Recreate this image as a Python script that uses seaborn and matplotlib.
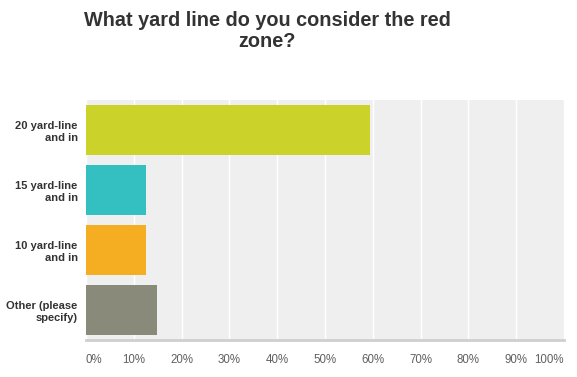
import pandas as pd
import matplotlib
matplotlib.use('Agg')
import matplotlib.pyplot as plt
import seaborn as sns
from matplotlib.ticker import FuncFormatter

# Datos
categorias = ['20 yard-line\nand in', '15 yard-line\nand in', '10 yard-line\nand in', 'Other (please\nspecify)']
porcentajes = [59.4, 12.5, 12.5, 14.8]
colores = ['#cbd32a', '#34bfc1', '#f5ae22', '#8a8a7a']
ticks_x = [0, 10, 20, 30, 40, 50, 60, 70, 80, 90, 100]

df = pd.DataFrame({'respuesta': categorias, 'pct': porcentajes})

sns.set_style('white')
plt.rcParams['font.family'] = ['Liberation Sans', 'DejaVu Sans']

fig = plt.figure(figsize=(5.77, 3.77), dpi=100)
ax = fig.add_axes([0.149, 0.098, 0.8285, 0.637])
ax.set_facecolor('#efefef')

sns.barplot(data=df, x='pct', y='respuesta', hue='respuesta', palette=colores,
            legend=False, width=0.83, saturation=1, linewidth=0, ax=ax, zorder=3)

ax.set_xlim(0, 100)
ax.set_ylim(3.5, -0.5)
ax.set_xticks(ticks_x)
ax.xaxis.set_major_formatter(FuncFormatter(lambda v, p: f'{int(v)}%'))
ax.grid(axis='x', color='white', linewidth=1, zorder=1)
ax.grid(axis='y', visible=False)

for s in ['top', 'right', 'left']:
    ax.spines[s].set_visible(False)
ax.spines['bottom'].set_color('#cfcfcf')
ax.spines['bottom'].set_linewidth(2)

ax.tick_params(axis='x', length=0, pad=10, labelsize=8.3, labelcolor='#606060')
ax.tick_params(axis='y', length=0, pad=6)
xlabels = ax.get_xticklabels()
xlabels[0].set_horizontalalignment('left')
xlabels[-1].set_horizontalalignment('right')
for lbl in ax.get_yticklabels():
    lbl.set_fontsize(8)
    lbl.set_fontweight('bold')
    lbl.set_color('#333333')
    lbl.set_horizontalalignment('right')
    lbl.set_multialignment('right')

ax.set_xlabel('')
ax.set_ylabel('')

fig.text(0.463, 0.917, 'What yard line do you consider the red\nzone?', ha='center', va='center',
         fontsize=14.3, fontweight='bold', color='#333333', linespacing=1.12)

fig.savefig('out.png', dpi=100)
